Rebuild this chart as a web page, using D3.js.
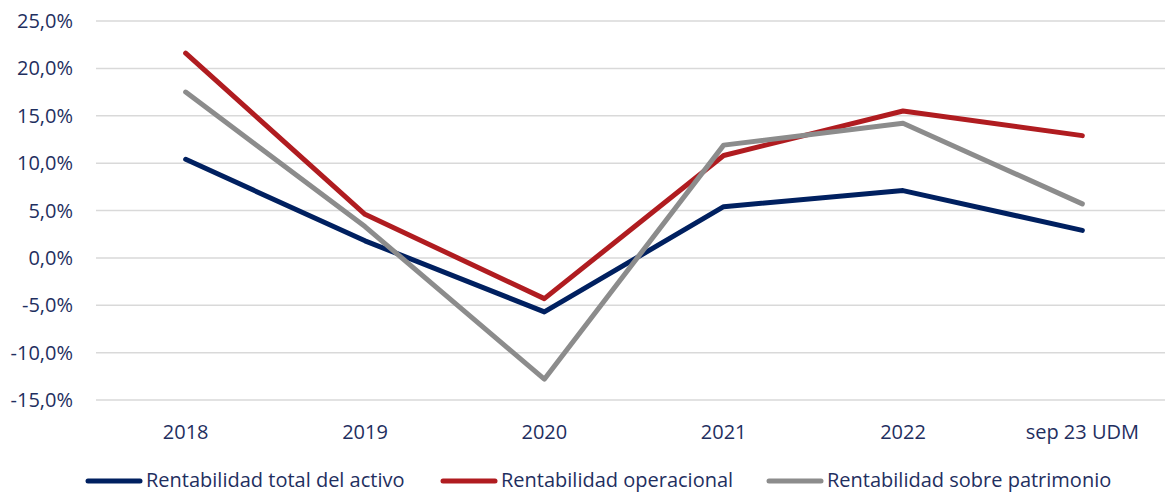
<!DOCTYPE html>
<html>
<head>
<meta charset="utf-8">
<script src="https://cdn.jsdelivr.net/npm/d3@7"></script>
<style>
  body { margin: 0; background: #fff; }
  text { font-family: "Open Sans", "Noto Sans", sans-serif; fill: #1f2f5f; }
</style>
</head>
<body>
<div id="chart"></div>
<script>
var categories = ["2018", "2019", "2020", "2021", "2022", "sep 23 UDM"];
var activo = [10.4, 1.8, -5.7, 5.4, 7.1, 2.9];
var operacional = [21.6, 4.6, -4.3, 10.8, 15.5, 12.9];
var patrimonio = [17.5, 3.3, -12.8, 11.9, 14.2, 5.7];
var yTicks = [-15, -10, -5, 0, 5, 10, 15, 20, 25];

var series = [
  { name: "Rentabilidad total del activo", values: activo, color: "#002060" },
  { name: "Rentabilidad operacional", values: operacional, color: "#b01c20" },
  { name: "Rentabilidad sobre patrimonio", values: patrimonio, color: "#8c8c8c" }
];

var width = 1165, height = 494;

var svg = d3.select("#chart").append("svg")
  .attr("width", width)
  .attr("height", height);

var x = d3.scaleBand()
  .domain(categories)
  .range([96, 1172]);

var y = d3.scaleLinear()
  .domain([-15, 25])
  .range([400, 21]);

// gridlines
svg.append("g")
  .selectAll("line")
  .data(yTicks)
  .enter()
  .append("line")
  .attr("x1", 96)
  .attr("x2", 1165)
  .attr("y1", function(d) { return y(d); })
  .attr("y2", function(d) { return y(d); })
  .attr("stroke", "#d9d9d9")
  .attr("stroke-width", 1.5);

var fmt = function(d) { return d.toFixed(1).replace(".", ",") + "%"; };

// y labels
svg.append("g")
  .selectAll("text")
  .data(yTicks)
  .enter()
  .append("text")
  .attr("x", 73)
  .attr("y", function(d) { return y(d); })
  .attr("dy", "0.35em")
  .attr("text-anchor", "end")
  .style("font-size", "20px")
  .text(fmt);

// x labels
svg.append("g")
  .selectAll("text")
  .data(categories)
  .enter()
  .append("text")
  .attr("x", function(d) { return x(d) + x.bandwidth() / 2; })
  .attr("y", 439)
  .attr("text-anchor", "middle")
  .style("font-size", "20px")
  .text(function(d) { return d; });

var line = d3.line()
  .x(function(d, i) { return x(categories[i]) + x.bandwidth() / 2; })
  .y(function(d) { return y(d); });

series.forEach(function(s) {
  svg.append("path")
    .datum(s.values)
    .attr("fill", "none")
    .attr("stroke", s.color)
    .attr("stroke-width", 5)
    .attr("stroke-linecap", "round")
    .attr("stroke-linejoin", "round")
    .attr("d", line);
});

// legend
var legendX = [88, 443, 769];
var legend = svg.append("g")
  .selectAll("g")
  .data(series)
  .enter()
  .append("g")
  .attr("transform", function(d, i) { return "translate(" + legendX[i] + ",481)"; });

legend.append("line")
  .attr("x1", 0)
  .attr("x2", 52)
  .attr("stroke", function(d) { return d.color; })
  .attr("stroke-width", 5)
  .attr("stroke-linecap", "round");

legend.append("text")
  .attr("x", 58)
  .attr("y", 6)
  .style("font-size", "20px")
  .text(function(d) { return d.name; });
</script>
</body>
</html>
